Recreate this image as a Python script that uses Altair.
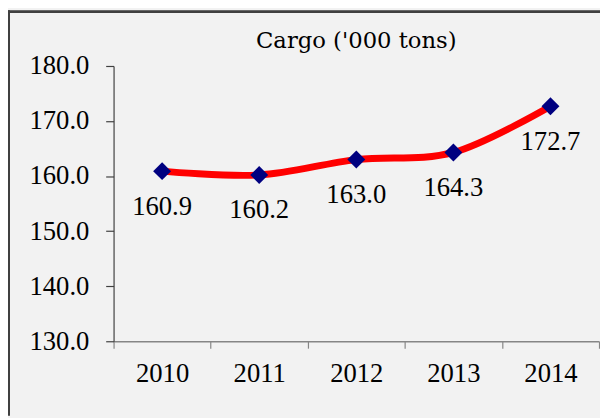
import altair as alt
import pandas as pd

years = ["2010", "2011", "2012", "2013", "2014"]
cargo = [160.9, 160.2, 163.0, 164.3, 172.7]
y_ticks = [130, 140, 150, 160, 170, 180]
title_text = "Cargo ('000 tons)"

df = pd.DataFrame({"year": years, "cargo": cargo})

FONT = "Liberation Serif"

x_enc = alt.X(
    "year:N",
    bandPosition=0.5,
    scale=alt.Scale(type="band", paddingInner=0, paddingOuter=0),
    axis=alt.Axis(
        title=None, labelAngle=0, tickBand="extent", domainColor="#868686",
        tickColor="#868686", tickSize=7, labelPadding=13, labelFont=FONT,
        labelFontSize=27, labelColor="black", domainWidth=1.5, tickWidth=1.2,
    ),
)
y_enc = alt.Y(
    "cargo:Q",
    scale=alt.Scale(domain=[130, 180], nice=False, zero=False),
    axis=alt.Axis(
        title=None, values=y_ticks, format=".1f", grid=False, domainColor="#404040",
        tickColor="#404040", tickSize=8, labelPadding=17, labelFont=FONT,
        labelFontSize=27, labelColor="black", domainWidth=1.2, tickWidth=1.2,
    ),
)

base = alt.Chart(df)

line = base.mark_line(color="#ff0000", strokeWidth=7, interpolate="cardinal").encode(x=x_enc, y=y_enc)
points = base.mark_point(shape="diamond", filled=True, size=330, color="#000080", opacity=1).encode(x=x_enc, y=y_enc)
labels = base.mark_text(dy=36, font=FONT, fontSize=27, color="black", baseline="middle").encode(
    x=x_enc, y=y_enc, text=alt.Text("cargo:Q", format=".1f")
)

border_left = alt.Chart(df).mark_rule(color="#404040", strokeWidth=2).encode(
    x=alt.value(-106), y=alt.value(-56), y2=alt.value(354)
)
border_top = alt.Chart(df).mark_rule(color="#404040", strokeWidth=2).encode(
    x=alt.value(-107), x2=alt.value(493), y=alt.value(-55)
)

chart = alt.layer(border_left, border_top, line, points, labels).properties(
    width=492,
    height=279,
    autosize=alt.AutoSizeParams(type="none"),
    padding={"left": 107, "top": 56, "right": 1, "bottom": 75},
    background="#f2f2f2",
    title=alt.TitleParams(
        title_text, font="DejaVu Serif", fontSize=23, fontWeight="normal", color="black",
        anchor="middle", frame="group", baseline="alphabetic", offset=-62, dx=0,
    ),
).configure_view(stroke=None)

chart.save("out.html", embed_options={"renderer": "svg", "actions": False})
